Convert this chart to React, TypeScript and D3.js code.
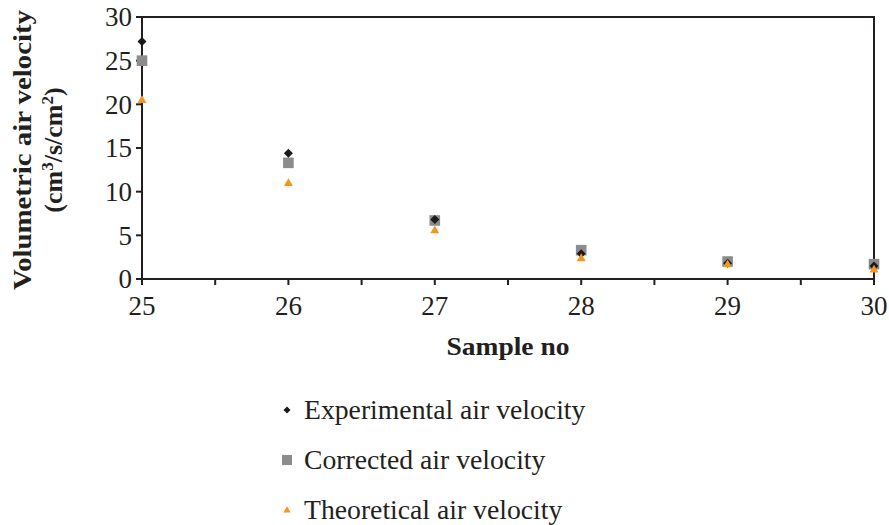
import React from "react";
import * as d3 from "d3";

const samples = [25, 26, 27, 28, 29, 30];
const experimental = [27.2, 14.4, 6.8, 2.9, 1.8, 1.5];
const corrected = [25.0, 13.3, 6.7, 3.3, 2.0, 1.7];
const theoretical = [20.5, 11.0, 5.6, 2.4, 1.7, 1.1];
const xTicks = [25, 26, 27, 28, 29, 30];
const yTicks = [0, 5, 10, 15, 20, 25, 30];
const seriesNames = ["Experimental air velocity", "Corrected air velocity", "Theoretical air velocity"];

const W = 889, H = 525;
const left = 142, right = 874, top = 17, bottom = 279;
const FONT = "'Liberation Serif', 'Times New Roman', serif";
const colors = ["#1a1a1a", "#8c8c8f", "#f7941d"];

function Marker({ kind, x, y, color, sizes }: { kind: number; x: number; y: number; color: string; sizes: number[] }) {
  const r = sizes[kind];
  if (kind === 0) {
    return <path d={`M0,${-r}L${r},0L0,${r}L${-r},0Z`} transform={`translate(${x},${y})`} fill={color} />;
  }
  if (kind === 1) {
    return <rect x={x - r} y={y - r} width={2 * r} height={2 * r} fill={color} />;
  }
  const h = r * 1.732;
  return <path d={`M0,${-h * 0.6}L${r},${h * 0.4}L${-r},${h * 0.4}Z`} transform={`translate(${x},${y})`} fill={color} />;
}

export default function App() {
  const x = d3.scaleLinear().domain([25, 30]).range([left, right]);
  const y = d3.scaleLinear().domain([0, 30]).range([bottom, top]);
  const series = [experimental, corrected, theoretical];
  const drawOrder = [1, 0, 2];
  const minor = d3.range(25.5, 30, 1);
  const plotSizes = [4.5, 5.3, 4.5];
  const legendSizes = [3.5, 5, 3.6];
  return (
    <svg width={W} height={H} style={{ position: "absolute", left: 0, top: 0, background: "#fff" }}>
      <rect x={0} y={0} width={W} height={H} fill="#fff" />
      <rect x={left} y={top} width={right - left} height={bottom - top} fill="none" stroke="#231f20" strokeWidth={2} />
      {yTicks.map((t) => (
        <g key={"y" + t}>
          <line x1={left - 6} x2={left} y1={y(t)} y2={y(t)} stroke="#231f20" strokeWidth={2} />
          <text x={left - 10} y={y(t)} dy="0.35em" textAnchor="end" fontFamily={FONT} fontSize={27} fill="#231f20">
            {t}
          </text>
        </g>
      ))}
      {xTicks.map((t) => (
        <g key={"x" + t}>
          <line x1={x(t)} x2={x(t)} y1={bottom} y2={bottom + 6} stroke="#231f20" strokeWidth={2} />
          <text x={x(t)} y={315} textAnchor="middle" fontFamily={FONT} fontSize={27} fill="#231f20">
            {t}
          </text>
        </g>
      ))}
      {minor.map((t) => (
        <line key={"m" + t} x1={x(t)} x2={x(t)} y1={bottom} y2={bottom + 6} stroke="#231f20" strokeWidth={2} />
      ))}
      {drawOrder.map((k) =>
        series[k].map((v, i) => <Marker key={k + "-" + i} kind={k} x={x(samples[i])} y={y(v)} color={colors[k]} sizes={plotSizes} />)
      )}
      <text x={508} y={355} textAnchor="middle" fontFamily={FONT} fontWeight="bold" fontSize={26} fill="#231f20" textLength={123} lengthAdjust="spacingAndGlyphs">
        Sample no
      </text>
      <g transform={`translate(31,150) rotate(-90)`}>
        <text x={0} y={0} textAnchor="middle" fontFamily={FONT} fontWeight="bold" fontSize={26} fill="#231f20" textLength={280} lengthAdjust="spacingAndGlyphs">
          Volumetric air velocity
        </text>
        <text x={0} y={31} textAnchor="middle" fontFamily={FONT} fontWeight="bold" fontSize={26} fill="#231f20">
          (cm<tspan baselineShift="super" fontSize={17}>3</tspan>/s/cm<tspan baselineShift="super" fontSize={17}>2</tspan>)
        </text>
      </g>
      {seriesNames.map((n, k) => (
        <g key={"l" + k}>
          <Marker kind={k} x={287} y={410 + k * 50} color={colors[k]} sizes={legendSizes} />
          <text x={304} y={419 + k * 50} fontFamily={FONT} fontSize={27.7} fill="#231f20">
            {n}
          </text>
        </g>
      ))}
    </svg>
  );
}
